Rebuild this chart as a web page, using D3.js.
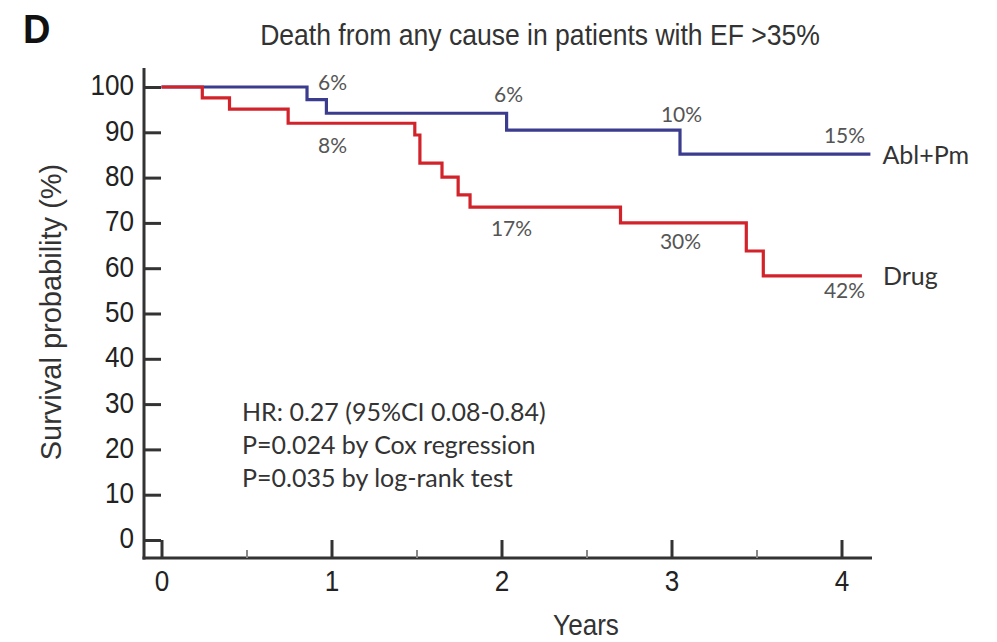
<!DOCTYPE html>
<html>
<head>
<meta charset="utf-8">
<script src="https://cdn.jsdelivr.net/npm/d3@7"></script>
<style>
  html, body { margin: 0; padding: 0; background: #fff; }
  svg { display: block; }
</style>
</head>
<body>
<svg id="chart" width="997" height="642"></svg>
<script>
// ---------------- DATA ----------------
const panelLabel = "D";
const chartTitle = "Death from any cause in patients with EF >35%";
const yAxisTitle = "Survival probability (%)";
const xAxisTitle = "Years";

// Kaplan-Meier step curves (time in years, survival in %)
const ablTimes = [0, 0.856, 0.97, 2.03, 3.05, 4.17];
const ablSurv  = [100, 97.2, 94.2, 90.5, 85.2, 85.2];
const drugTimes = [0, 0.24, 0.40, 0.745, 1.49, 1.52, 1.65, 1.745, 1.815, 2.70, 3.44, 3.54, 4.12];
const drugSurv  = [100, 97.6, 95.1, 92.0, 89.4, 83.2, 80.1, 76.2, 73.5, 70.0, 63.8, 58.3, 58.3];

const seriesNames = ["Abl+Pm", "Drug"];

// cumulative mortality labels at each year
const labelYears = [1, 2, 3, 4];
const ablMortality  = ["6%", "6%", "10%", "15%"];
const drugMortality = ["8%", "17%", "30%", "42%"];

const statLines = [
  "HR: 0.27 (95%CI 0.08-0.84)",
  "P=0.024 by Cox regression",
  "P=0.035 by log-rank test"
];

const yTickValues = [0, 10, 20, 30, 40, 50, 60, 70, 80, 90, 100];
const xTickValues = [0, 1, 2, 3, 4];
const xMinorTickValues = [0.5, 1.5, 2.5, 3.5];

// ---------------- STYLE / LAYOUT ----------------
const BLUE = "#3c3c8e";
const RED = "#d2232b";
const AXIS = "#333";
const SANS = "'Liberation Sans', Arial, Helvetica, sans-serif";
const CAL = "Lato, 'Open Sans', sans-serif";
const SX = 0.9; // horizontal compression of the original artwork's text

const svg = d3.select("#chart");

const x = d3.scaleLinear().domain([0, 4]).range([161.5, 841.5]);
const y = d3.scaleLinear().domain([0, 100]).range([540, 87]);

function addText(parent, px, py, str, o) {
  return parent.append("text")
    .attr("transform", `translate(${px},${py}) scale(${o.sx ?? SX},1)`)
    .attr("text-anchor", o.anchor || "start")
    .style("font-family", o.family || SANS)
    .style("font-size", o.size + "px")
    .style("font-weight", o.weight || "normal")
    .style("fill", o.color || "#222")
    .text(str);
}

// panel label & title
addText(svg, 23, 43, panelLabel, {size: 40, weight: "bold", sx: 0.95, color: "#111"});
addText(svg, 540, 45, chartTitle, {size: 29.5, anchor: "middle", color: "#333"});

// axis lines
const axisG = svg.append("g");
axisG.append("line").attr("x1", 144).attr("x2", 144).attr("y1", 68).attr("y2", 559.5)
  .attr("stroke", AXIS).attr("stroke-width", 3);
axisG.append("line").attr("x1", 142.5).attr("x2", 872).attr("y1", 558).attr("y2", 558)
  .attr("stroke", AXIS).attr("stroke-width", 3);

// y axis ticks + labels (ticks point inward)
const yAxisG = svg.append("g")
  .attr("transform", "translate(144,0)")
  .attr("color", AXIS)
  .call(d3.axisLeft(y).tickValues(yTickValues).tickSizeInner(-17).tickSizeOuter(0).tickPadding(11));
yAxisG.select(".domain").remove();
yAxisG.selectAll(".tick line").attr("stroke-width", 3);
yAxisG.selectAll(".tick text")
  .attr("x", null).attr("dy", null)
  .attr("transform", `translate(-10,-2) scale(${SX},1)`)
  .attr("dominant-baseline", "central")
  .style("font-family", SANS).style("font-size", "29px").style("fill", "#222");

// x axis major ticks
const xAxisG = svg.append("g")
  .attr("transform", "translate(0,558)")
  .attr("color", AXIS)
  .call(d3.axisBottom(x).tickValues(xTickValues).tickFormat(d3.format("d"))
    .tickSizeInner(-18).tickSizeOuter(0).tickPadding(12));
xAxisG.select(".domain").remove();
xAxisG.selectAll(".tick line").attr("stroke-width", 3);
xAxisG.selectAll(".tick text")
  .attr("transform", `scale(${SX},1)`)
  .style("font-family", SANS).style("font-size", "29px").style("fill", "#222");

// x axis minor ticks
const xMinorG = svg.append("g")
  .attr("transform", "translate(0,558)")
  .attr("color", "#888")
  .call(d3.axisBottom(x).tickValues(xMinorTickValues).tickSizeInner(-8).tickSizeOuter(0).tickFormat(""));
xMinorG.select(".domain").remove();
xMinorG.selectAll(".tick line").attr("stroke-width", 2);

// axis titles
svg.append("text")
  .attr("transform", "translate(61,312) rotate(-90)")
  .attr("text-anchor", "middle")
  .style("font-family", SANS).style("font-size", "29px").style("fill", "#333")
  .text(yAxisTitle);
addText(svg, 586, 635, xAxisTitle, {size: 29, anchor: "middle", color: "#333"});

// curves
const line = d3.line()
  .x(d => x(d[0]))
  .y(d => y(d[1]))
  .curve(d3.curveStepAfter);

const ablData = ablTimes.map((t, i) => [t, ablSurv[i]]);
const drugData = drugTimes.map((t, i) => [t, drugSurv[i]]);

svg.append("path").datum(ablData)
  .attr("d", line).attr("fill", "none").attr("stroke", BLUE).attr("stroke-width", 3.2);
svg.append("path").datum(drugData)
  .attr("d", line).attr("fill", "none").attr("stroke", RED).attr("stroke-width", 3.2);

// end-of-curve labels
const ablEnd = ablData[ablData.length - 1];
const drugEnd = drugData[drugData.length - 1];
addText(svg, x(ablEnd[0]) + 12, y(ablEnd[1]) + 10, seriesNames[0], {size: 25, sx: 1, family: CAL, color: "#333"});
addText(svg, x(drugEnd[0]) + 21, y(drugEnd[1]) + 9, seriesNames[1], {size: 25, sx: 1, family: CAL, color: "#333"});

// mortality labels (offsets in px from year tick)
const ablLabelOff  = [[1, -23], [7, -11], [10, -8], [3, -11]];
const drugLabelOff = [[1, 30], [10, 29], [9, 26], [3, 22]];
function survAt(times, surv, t) {
  let v = surv[0];
  for (let i = 0; i < times.length; i++) if (times[i] <= t) v = surv[i];
  return v;
}
labelYears.forEach((yr, i) => {
  const ya = y(survAt(ablTimes, ablSurv, yr - 0.001));
  addText(svg, x(yr) + ablLabelOff[i][0], ya + ablLabelOff[i][1], ablMortality[i],
    {size: 21, sx: 1, family: CAL, anchor: "middle", color: "#555"});
  const yd = y(survAt(drugTimes, drugSurv, yr - 0.001));
  addText(svg, x(yr) + drugLabelOff[i][0], yd + drugLabelOff[i][1], drugMortality[i],
    {size: 21, sx: 1, family: CAL, anchor: "middle", color: "#555"});
});

// statistics annotation
statLines.forEach((s, i) => {
  addText(svg, 242, 421 + i * 33, s, {size: 25, sx: 1, family: CAL, color: "#333"});
});
</script>
</body>
</html>
